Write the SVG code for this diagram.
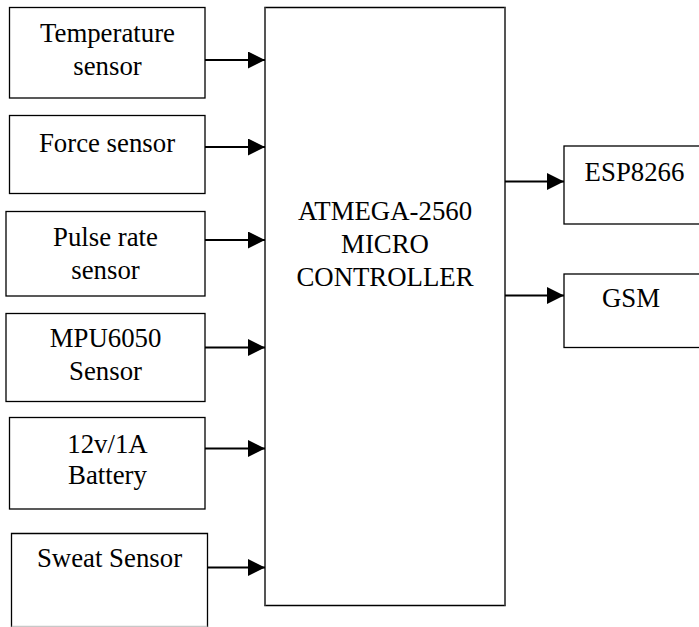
<svg xmlns="http://www.w3.org/2000/svg" width="699" height="627" viewBox="0 0 699 627">
<style>
.box{fill:#fff;stroke:#000;stroke-width:1.3}
.t{font-family:"Liberation Serif","Times New Roman",serif;font-size:26.8px;fill:#000;text-anchor:middle}
.conn{stroke:#000;stroke-width:2.2;fill:none}
</style>
<defs>
<marker id="ah" markerUnits="userSpaceOnUse" markerWidth="18" markerHeight="18" refX="17" refY="8.5" orient="auto">
<path d="M0,0 L17,8.5 L0,17 Z" fill="#000"/>
</marker>
</defs>
<rect width="699" height="627" fill="#fff"/>
<g id="main">
<rect x="265" y="7.5" width="240" height="598" fill="#fff" stroke="#000" stroke-width="1.5"/>
<line x1="265" y1="7.5" x2="265" y2="605.5" stroke="#555" stroke-width="2"/>
<line x1="505" y1="7.5" x2="505" y2="605.5" stroke="#555" stroke-width="2"/>
<text class="t" x="385" y="220">ATMEGA-2560</text>
<text class="t" x="385" y="253">MICRO</text>
<text class="t" x="385" y="286">CONTROLLER</text>
</g>
<g id="temperature">
<rect class="box" x="9.5" y="7.5" width="195.5" height="90.5"/>
<text class="t" x="107.5" y="42">Temperature</text>
<text class="t" x="107.5" y="75">sensor</text>
</g>
<g id="force">
<rect class="box" x="9.5" y="115.5" width="195.5" height="78"/>
<text class="t" x="107" y="152">Force sensor</text>
</g>
<g id="pulse">
<rect class="box" x="6" y="211.5" width="199" height="84.5"/>
<text class="t" x="105.5" y="246">Pulse rate</text>
<text class="t" x="105.5" y="279">sensor</text>
</g>
<g id="mpu">
<rect class="box" x="6" y="313.5" width="199" height="88"/>
<text class="t" x="105.5" y="347">MPU6050</text>
<text class="t" x="105.5" y="380">Sensor</text>
</g>
<g id="battery">
<rect class="box" x="9.5" y="417.5" width="195.5" height="91.5"/>
<text class="t" x="107.5" y="452.5">12v/1A</text>
<text class="t" x="107.5" y="484">Battery</text>
</g>
<g id="sweat">
<path d="M11.5,627 V533.5 H207.5 V627" fill="#fff" stroke="#000" stroke-width="1.3"/>
<line x1="11.5" y1="626.3" x2="207.5" y2="626.3" stroke="#bbb" stroke-width="1"/>
<text class="t" x="109.5" y="567">Sweat Sensor</text>
</g>
<g id="esp">
<rect class="box" x="564" y="146" width="140" height="78"/>
<text class="t" x="634.5" y="181">ESP8266</text>
</g>
<g id="gsm">
<rect class="box" x="564" y="274" width="140" height="73.5"/>
<text class="t" x="631" y="307">GSM</text>
</g>
<g id="connectors">
<line class="conn" x1="205" y1="60" x2="265" y2="60" marker-end="url(#ah)"/>
<line class="conn" x1="205" y1="147" x2="265" y2="147" marker-end="url(#ah)"/>
<line class="conn" x1="205" y1="240" x2="265" y2="240" marker-end="url(#ah)"/>
<line class="conn" x1="205" y1="347.5" x2="265" y2="347.5" marker-end="url(#ah)"/>
<line class="conn" x1="205" y1="448.5" x2="265" y2="448.5" marker-end="url(#ah)"/>
<line class="conn" x1="207.5" y1="567.5" x2="265" y2="567.5" marker-end="url(#ah)"/>
<line class="conn" x1="505" y1="181.5" x2="564" y2="181.5" marker-end="url(#ah)"/>
<line class="conn" x1="505" y1="295.5" x2="564" y2="295.5" marker-end="url(#ah)"/>
</g>
</svg>
